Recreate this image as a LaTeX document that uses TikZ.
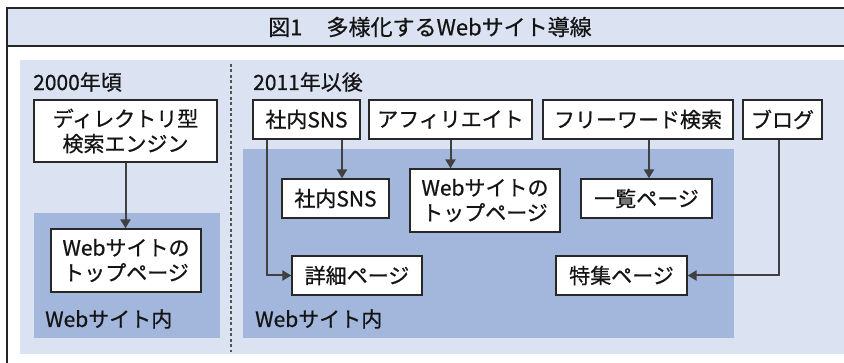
\documentclass[tikz,border=0pt]{standalone}
\usepackage{fontspec}
\setmainfont{Noto Sans CJK JP}[FakeBold=0.7]
\usetikzlibrary{arrows.meta}
\definecolor{lightbg}{RGB}{219,227,242}
\definecolor{darkbg}{RGB}{163,183,221}
\definecolor{arrgray}{RGB}{64,64,64}
\definecolor{boxline}{RGB}{40,40,40}
\definecolor{txt}{RGB}{20,20,20}
\begin{document}
\begin{tikzpicture}[x=1pt,y=-1pt,
  box/.style={draw=boxline, line width=1.3pt, fill=white, inner sep=0pt, align=center, text=txt,
    font=\fontsize{21}{25}\selectfont},
  arr/.style={draw=arrgray, line width=2pt, -{Triangle[length=9pt,width=10pt]}},
  lbl/.style={anchor=west, inner sep=0pt, text=txt, font=\fontsize{21}{24}\selectfont},
  dashline/.style={draw=arrgray!90, line width=2.2pt, dash pattern=on 3pt off 2.5pt}]
\useasboundingbox (0,0) rectangle (844,363);
% frame and title band
\fill[lightbg] (7,8) rectangle (850,46);
\draw[line width=1.5pt, black!85] (850,8) -- (7,8) -- (7,366);
\draw[line width=1.5pt, black!85] (7,46) -- (850,46);
\node[anchor=west, inner sep=0pt, text=txt, font=\fontsize{22}{24}\selectfont] (title) at (268,27) {図1\hspace{1.1em}多様化するWebサイト導線};
% panels
\fill[lightbg] (20,60) rectangle (850,354);
\fill[darkbg] (34,213) rectangle (220,338);
\fill[darkbg] (243,149) rectangle (734,338);
\draw[dashline] (231,64) -- (231,352);
% headings
\node[lbl] (h1) at (33,82) {2000年頃};
\node[lbl] (h2) at (253,82) {2011年以後};
\node[lbl] (in1) at (45,319) {Webサイト内};
\node[lbl] (in2) at (255,319) {Webサイト内};
% boxes left
\node[box, minimum width=183, minimum height=62] (dir) at (125.5,131) {ディレクトリ型\\検索エンジン};
\node[box, minimum width=150, minimum height=63] (web1) at (126,260.5) {Webサイトの\\トップページ};
% boxes right
\node[box, minimum width=107, minimum height=39] (sns1) at (306.5,119.5) {社内SNS};
\node[box, minimum width=163, minimum height=39] (aff) at (450.5,119.5) {アフィリエイト};
\node[box, minimum width=190, minimum height=39] (free) at (638,119.5) {フリーワード検索};
\node[box, minimum width=79, minimum height=39] (blog) at (782.5,119.5) {ブログ};
\node[box, minimum width=107, minimum height=39] (sns2) at (335.5,198.5) {社内SNS};
\node[box, minimum width=150, minimum height=63] (web2) at (485,200.5) {Webサイトの\\トップページ};
\node[box, minimum width=131, minimum height=39] (ichiran) at (646.5,198.5) {一覧ページ};
\node[box, minimum width=130, minimum height=39] (shosai) at (357,275.5) {詳細ページ};
\node[box, minimum width=131, minimum height=39] (tokushu) at (621.5,275.5) {特集ページ};
% arrows
\draw[arr] (dir.south) -- (dir.south |- web1.north);
\draw[arr] ([xshift=35.5pt]sns1.south) -- ([xshift=35.5pt]sns1.south |- sns2.north);
\draw[arr] ([xshift=-39.5pt]sns1.south) |- (shosai.west);
\draw[arr] (aff.south) -- (aff.south |- web2.north);
\draw[arr] ([xshift=11pt]free.south) -- ([xshift=11pt]free.south |- ichiran.north);
\draw[arr] ([xshift=-3.5pt]blog.south) |- (tokushu.east);
\end{tikzpicture}
\end{document}
